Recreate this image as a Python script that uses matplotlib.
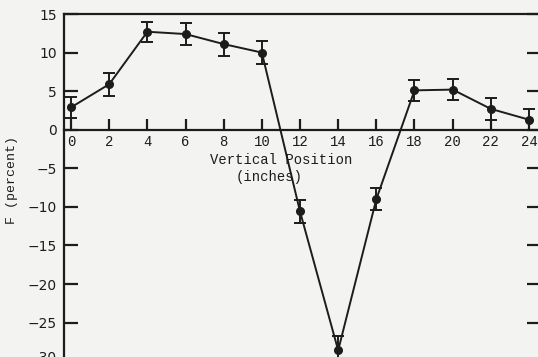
import matplotlib
matplotlib.use("Agg")
import matplotlib.pyplot as plt
from matplotlib.transforms import ScaledTranslation

# values
positions = [0, 2, 4, 6, 8, 10, 12, 14, 16, 18, 20, 22, 24]
f_percent = [2.9, 5.9, 12.7, 12.4, 11.1, 10.0, -10.6, -28.6, -9.0, 5.1, 5.2, 2.7, 1.3]
f_error = [1.4, 1.5, 1.3, 1.4, 1.5, 1.5, 1.5, 1.8, 1.4, 1.4, 1.4, 1.4, 1.4]
x_ticks = list(range(0, 25, 2))
y_ticks = [-30, -25, -20, -15, -10, -5, 0, 5, 10, 15]

paper = '#f3f3f1'
ink = '#1c1c1c'

fig = plt.figure(figsize=(5.38, 3.57), dpi=100)
fig.patch.set_facecolor(paper)
ax = fig.add_axes([64 / 538, -8 / 357, 477 / 538, 351 / 357])
ax.set_facecolor(paper)

ax.errorbar(positions, f_percent, yerr=f_error, color=ink, lw=1.4,
            marker='o', ms=5.5, capsize=4.5, capthick=1.4, elinewidth=1.4)

ax.set_xlim(-0.37, 24.63)
ax.set_ylim(-30.5, 15)

# x axis drawn through zero, ticks pointing up
ax.spines['bottom'].set_position(('data', 0))
ax.spines['right'].set_visible(False)
for s in ['left', 'top', 'bottom']:
    ax.spines[s].set_linewidth(1.6)
    ax.spines[s].set_color(ink)

ax.set_xticks(x_ticks)
ax.set_xticklabels([str(v) for v in x_ticks], family='Liberation Mono', fontsize=10)
ax.tick_params(axis='x', direction='in', length=8, width=1.6, pad=4, colors=ink)

ax.set_yticks(y_ticks)
ax.set_yticklabels([str(v).replace('-', '\u2212') for v in y_ticks], fontsize=10)
ax.tick_params(axis='y', direction='in', length=10, width=1.6, pad=5, colors=ink,
               right=True)

# the bottom label sits a little higher on the scan
lowest = ax.get_yticklabels()[0]
lowest.set_transform(lowest.get_transform() + ScaledTranslation(0, 5 / 100, fig.dpi_scale_trans))

fig.text(281 / 538, 1 - 160 / 357, 'Vertical Position', family='Liberation Mono',
         fontsize=10, ha='center', va='center', color=ink)
fig.text(269 / 538, 1 - 177 / 357, '(inches)', family='Liberation Mono',
         fontsize=10, ha='center', va='center', color=ink)
fig.text(12 / 538, 1 - 180 / 357, 'F (percent)', family='Liberation Mono',
         fontsize=9.5, ha='center', va='center', rotation=90, color=ink)

fig.savefig('out.png', dpi=100, facecolor=paper)
